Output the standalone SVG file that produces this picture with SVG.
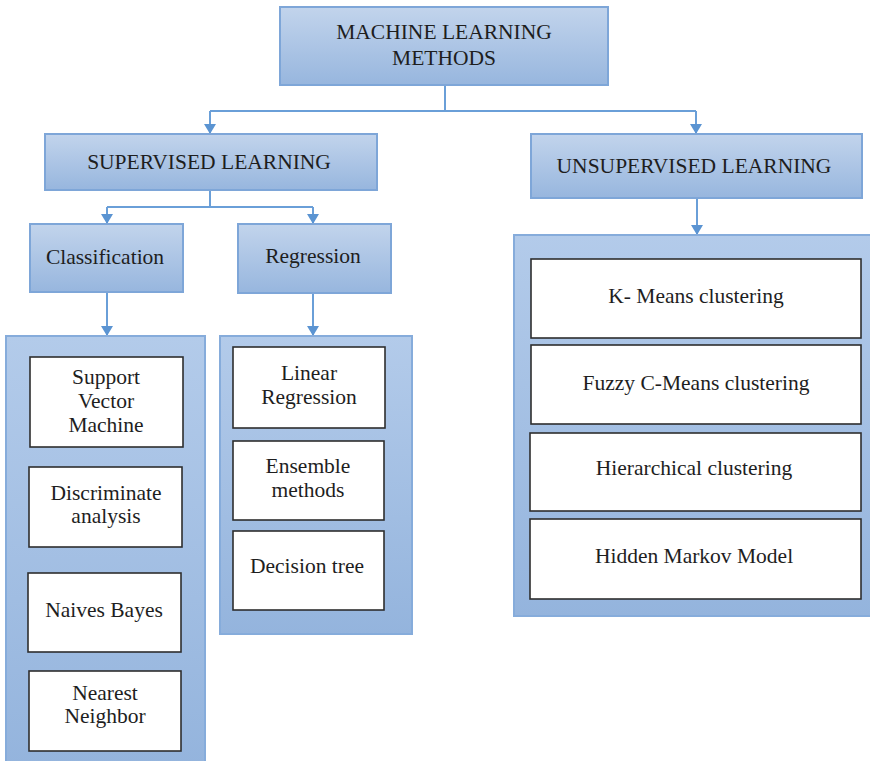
<svg xmlns="http://www.w3.org/2000/svg" width="870" height="761" viewBox="0 0 870 761">
  <defs>
    <linearGradient id="blueFill" x1="0" y1="0" x2="0" y2="1">
      <stop offset="0" stop-color="#c2d4ec"/>
      <stop offset="1" stop-color="#97b6de"/>
    </linearGradient>
    <linearGradient id="panelFill" x1="0" y1="0" x2="0" y2="1">
      <stop offset="0" stop-color="#b3cbea"/>
      <stop offset="1" stop-color="#94b4dd"/>
    </linearGradient>
    <marker id="arrow" viewBox="0 0 10 12" refX="10" refY="6" markerWidth="10" markerHeight="12" markerUnits="userSpaceOnUse" orient="auto">
      <path d="M0,0 L10,6 L0,12 Z" fill="#5b94d2"/>
    </marker>
  </defs>
  <style>
    .head { fill: url(#blueFill); stroke: #7ea6d8; stroke-width: 2; }
    .panel { fill: url(#panelFill); stroke: #86acdb; stroke-width: 2; }
    .item { fill: #ffffff; stroke: #2e2e2e; stroke-width: 1.6; }
    .link { fill: none; stroke: #6a9fd8; stroke-width: 2; }
    .arr { fill: none; stroke: #6a9fd8; stroke-width: 2; marker-end: url(#arrow); }
    .lbl { font-size: 21.5px; fill: #1e1e1e; text-anchor: middle; }
  </style>
  <rect width="870" height="761" fill="#ffffff"/>

  <!-- connectors -->
  <g id="connectors">
    <path class="link" d="M445,85 V111"/>
    <path class="link" d="M210,111 H696"/>
    <path class="arr" d="M210,111 V134"/>
    <path class="arr" d="M696,111 V134"/>
    <path class="link" d="M210,190 V207"/>
    <path class="link" d="M107,207 H313"/>
    <path class="arr" d="M107,207 V224"/>
    <path class="arr" d="M313,207 V224"/>
    <path class="arr" d="M107,292 V336"/>
    <path class="arr" d="M313,293 V336"/>
    <path class="arr" d="M697,198 V235"/>
  </g>

  <g font-family="'Liberation Serif', 'DejaVu Serif', 'Times New Roman', serif">
  <!-- root -->
  <g id="root">
    <rect class="head" x="280" y="7" width="328" height="78"/>
    <text class="lbl" x="444" y="39">MACHINE LEARNING</text>
    <text class="lbl" x="444" y="65">METHODS</text>
  </g>

  <!-- supervised branch -->
  <g id="supervised">
    <rect class="head" x="45" y="134" width="332" height="56"/>
    <text class="lbl" x="209" y="169">SUPERVISED LEARNING</text>
  </g>
  <g id="classification">
    <rect class="head" x="30" y="224" width="153" height="68"/>
    <text class="lbl" x="105" y="264">Classification</text>
  </g>
  <g id="regression">
    <rect class="head" x="238" y="224" width="153" height="69"/>
    <text class="lbl" x="313" y="263">Regression</text>
  </g>

  <!-- classification methods -->
  <g id="classification-panel">
    <rect class="panel" x="6" y="336" width="199" height="430"/>
  </g>
  <g id="svm">
    <rect class="item" x="30" y="357" width="153" height="90"/>
    <text class="lbl" x="106" y="384">Support</text>
    <text class="lbl" x="106" y="408">Vector</text>
    <text class="lbl" x="106" y="432">Machine</text>
  </g>
  <g id="discriminate">
    <rect class="item" x="29" y="467" width="153" height="80"/>
    <text class="lbl" x="106" y="500">Discriminate</text>
    <text class="lbl" x="106" y="523">analysis</text>
  </g>
  <g id="naives-bayes">
    <rect class="item" x="28" y="573" width="153" height="79"/>
    <text class="lbl" x="104" y="617">Naives Bayes</text>
  </g>
  <g id="nearest-neighbor">
    <rect class="item" x="29" y="671" width="152" height="80"/>
    <text class="lbl" x="105" y="700">Nearest</text>
    <text class="lbl" x="105" y="723">Neighbor</text>
  </g>

  <!-- regression methods -->
  <g id="regression-panel">
    <rect class="panel" x="220" y="336" width="192" height="298"/>
  </g>
  <g id="linear-regression">
    <rect class="item" x="233" y="347" width="152" height="81"/>
    <text class="lbl" x="309" y="380">Linear</text>
    <text class="lbl" x="309" y="404">Regression</text>
  </g>
  <g id="ensemble">
    <rect class="item" x="233" y="441" width="151" height="79"/>
    <text class="lbl" x="308" y="473">Ensemble</text>
    <text class="lbl" x="308" y="497">methods</text>
  </g>
  <g id="decision-tree">
    <rect class="item" x="233" y="531" width="151" height="79"/>
    <text class="lbl" x="307" y="573">Decision tree</text>
  </g>

  <!-- unsupervised branch -->
  <g id="unsupervised">
    <rect class="head" x="531" y="134" width="331" height="64"/>
    <text class="lbl" x="694" y="173">UNSUPERVISED LEARNING</text>
  </g>
  <g id="unsupervised-panel">
    <rect class="panel" x="514" y="235" width="362" height="381"/>
  </g>
  <g id="k-means">
    <rect class="item" x="531" y="259" width="330" height="79"/>
    <text class="lbl" x="696" y="303">K- Means clustering</text>
  </g>
  <g id="fuzzy-c-means">
    <rect class="item" x="531" y="345" width="330" height="79"/>
    <text class="lbl" x="696" y="390">Fuzzy C-Means clustering</text>
  </g>
  <g id="hierarchical">
    <rect class="item" x="530" y="433" width="331" height="78"/>
    <text class="lbl" x="694" y="475">Hierarchical clustering</text>
  </g>
  <g id="hidden-markov">
    <rect class="item" x="530" y="519" width="331" height="80"/>
    <text class="lbl" x="694" y="563">Hidden Markov Model</text>
  </g>
  </g>
</svg>
